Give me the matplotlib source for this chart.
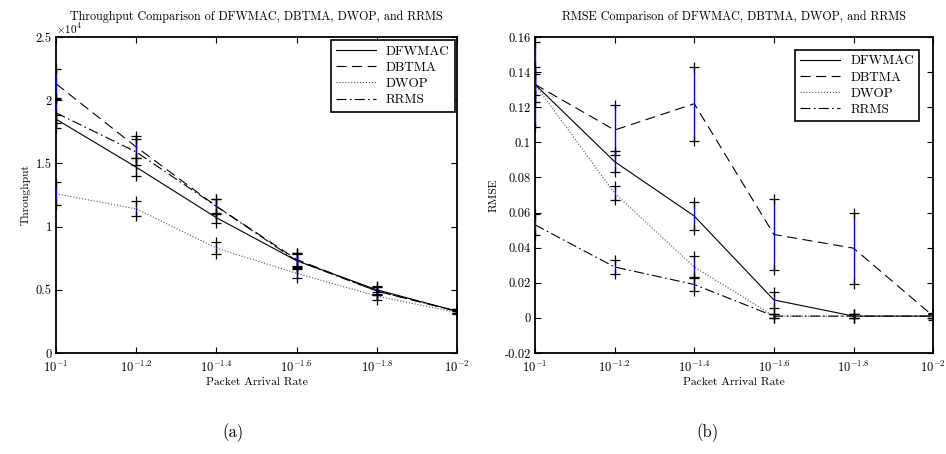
import numpy as np
import matplotlib
matplotlib.use("Agg")
import matplotlib.pyplot as plt
from matplotlib.ticker import FuncFormatter, FixedLocator, NullLocator

plt.rcParams['font.family'] = ['cmr10', 'DejaVu Serif']
plt.rcParams['mathtext.fontset'] = 'cm'
plt.rcParams['axes.unicode_minus'] = False
plt.rcParams['axes.formatter.use_mathtext'] = True

# packet arrival rate exponents (x = 10**exp)
exponents = [-1, -1.2, -1.4, -1.6, -1.8, -2]
series = ['DFWMAC', 'DBTMA', 'DWOP', 'RRMS']

# throughput, in units of 1e4
thr_dfwmac = [1.85, 1.47, 1.07, 0.73, 0.50, 0.33]
thr_dbtma = [2.13, 1.63, 1.16, 0.74, 0.49, 0.33]
thr_dwop = [1.26, 1.14, 0.83, 0.63, 0.45, 0.32]
thr_rrms = [1.90, 1.59, 1.16, 0.73, 0.49, 0.33]

thr_err_dfwmac = [0.03, 0.07, 0.04, 0.06, 0.03, 0.015]
thr_err_dbtma = [0.12, 0.09, 0.06, 0.05, 0.03, 0.015]
thr_err_dwop = [0.09, 0.06, 0.05, 0.035, 0.03, 0.015]
thr_err_rrms = [0.12, 0.10, 0.06, 0.05, 0.03, 0.015]

# RMSE
rmse_dfwmac = [0.133, 0.089, 0.058, 0.0102, 0.001, 0.001]
rmse_dbtma = [0.133, 0.107, 0.122, 0.0475, 0.0397, 0.001]
rmse_dwop = [0.133, 0.071, 0.029, 0.001, 0.001, 0.001]
rmse_rrms = [0.053, 0.029, 0.019, 0.001, 0.001, 0.001]

rmse_err_dfwmac = [0.024, 0.006, 0.008, 0.0048, 0.001, 0.001]
rmse_err_dbtma = [0.010, 0.014, 0.021, 0.020, 0.0203, 0.002]
rmse_err_dwop = [0.006, 0.004, 0.006, 0.001, 0.001, 0.001]
rmse_err_rrms = [0.006, 0.004, 0.0035, 0.001, 0.001, 0.001]

styles = ['-', (0, (9, 5)), ':', (0, (9, 3, 1.5, 3))]
colors = ['black', 'black', '#555555', 'black']


def draw_panel(ax, values, errs, title, ylabel, ylim, yticks, leg_anchor):
    x = 10.0 ** np.array(exponents)
    for name, v, ls, c in zip(series, values, styles, colors):
        ax.plot(x, v, color=c, linestyle=ls, linewidth=0.8, label=name)
    for v, e in zip(values, errs):
        v = np.array(v)
        e = np.array(e)
        ax.vlines(x, v - e, v + e, colors='#0000ff', linewidth=1.0, zorder=3)
        ax.plot(x, v - e, '+', color='black', markersize=7, markeredgewidth=0.9, zorder=4)
        ax.plot(x, v + e, '+', color='black', markersize=7, markeredgewidth=0.9, zorder=4)

    ax.set_xscale('log')
    ax.set_xlim(0.1, 0.01)
    ax.xaxis.set_major_locator(FixedLocator(x))
    ax.xaxis.set_minor_locator(NullLocator())
    ax.set_xticklabels([r'$10^{%g}$' % p for p in exponents])
    ax.set_ylim(*ylim)
    ax.set_yticks(yticks)
    ax.yaxis.set_major_formatter(FuncFormatter(lambda val, pos: '%g' % round(val, 4)))
    ax.tick_params(direction='in', top=True, right=True, length=4, width=0.8, labelsize=9)
    ax.tick_params(axis='x', pad=5)
    ax.tick_params(axis='y', pad=3)
    for sp in ax.spines.values():
        sp.set_linewidth(1.3)
    ax.set_title(title, fontsize=8.7, pad=12)
    ax.set_xlabel('Packet Arrival Rate', fontsize=8.3, labelpad=2)
    ax.set_ylabel(ylabel, fontsize=8.3)
    leg = ax.legend(loc='upper right', bbox_to_anchor=leg_anchor, fontsize=9.5, fancybox=False,
                    framealpha=1, edgecolor='black', borderaxespad=0, handlelength=3.0,
                    labelspacing=0.3, borderpad=0.4, handletextpad=0.8)
    leg.get_frame().set_linewidth(1.2)


fig = plt.figure(figsize=(9.46, 4.54), dpi=100)
ax1 = fig.add_axes([0.0592, 0.2225, 0.424, 0.696])
ax2 = fig.add_axes([0.5655, 0.2225, 0.421, 0.696])

draw_panel(ax1, [thr_dfwmac, thr_dbtma, thr_dwop, thr_rrms],
           [thr_err_dfwmac, thr_err_dbtma, thr_err_dwop, thr_err_rrms],
           'Throughput Comparison of DFWMAC, DBTMA, DWOP, and RRMS', 'Throughput',
           (0, 2.5), [0, 0.5, 1, 1.5, 2, 2.5], (0.995, 0.99))
ax1.text(0.0, 1.002, r'$\times10^{4}$', transform=ax1.transAxes, fontsize=8, va='bottom', ha='left')

draw_panel(ax2, [rmse_dfwmac, rmse_dbtma, rmse_dwop, rmse_rrms],
           [rmse_err_dfwmac, rmse_err_dbtma, rmse_err_dwop, rmse_err_rrms],
           'RMSE Comparison of DFWMAC, DBTMA, DWOP, and RRMS', 'RMSE',
           (-0.02, 0.16), [-0.02, 0, 0.02, 0.04, 0.06, 0.08, 0.1, 0.12, 0.14, 0.16],
           (0.965, 0.959))

fig.text(0.246, 0.037, '(a)', fontsize=12, ha='center')
fig.text(0.748, 0.037, '(b)', fontsize=12, ha='center')

fig.savefig('out.png', dpi=100)
